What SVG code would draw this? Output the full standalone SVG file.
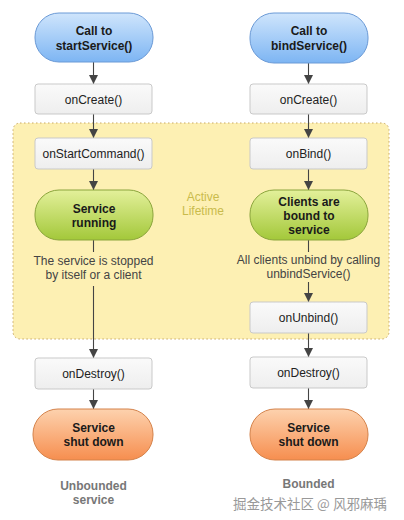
<svg xmlns="http://www.w3.org/2000/svg" width="404" height="520" viewBox="0 0 404 520">
<defs>
<linearGradient id="gBlue" x1="0" y1="0" x2="0" y2="1"><stop offset="0" stop-color="#cfe5fc"/><stop offset="1" stop-color="#7db5f3"/></linearGradient>
<linearGradient id="gGreen" x1="0" y1="0" x2="0" y2="1"><stop offset="0" stop-color="#e3f09a"/><stop offset="1" stop-color="#a3c83a"/></linearGradient>
<linearGradient id="gOrange" x1="0" y1="0" x2="0" y2="1"><stop offset="0" stop-color="#fdd2ae"/><stop offset="1" stop-color="#f68e4f"/></linearGradient>
<linearGradient id="gGray" x1="0" y1="0" x2="0" y2="1"><stop offset="0" stop-color="#fafafa"/><stop offset="1" stop-color="#eeeeee"/></linearGradient>
<marker id="arr" viewBox="0 0 10 10" refX="10" refY="5" markerWidth="9" markerHeight="9" markerUnits="userSpaceOnUse" orient="auto"><path d="M0,0 L10,5 L0,10 z" fill="#444"/></marker>
</defs>
<style>
text{font-family:"Liberation Sans",Arial,sans-serif;font-size:12px;text-anchor:middle}
.box{fill:url(#gGray);stroke:#c9c9c9;stroke-width:1}
.blue{fill:url(#gBlue);stroke:#6b9ad6;stroke-width:1}
.green{fill:url(#gGreen);stroke:#8ba53c;stroke-width:1}
.orange{fill:url(#gOrange);stroke:#d4824a;stroke-width:1}
.t{fill:#222}
.b{font-weight:bold;fill:#1a1a1a}
.note{fill:#444}
.lab{font-weight:bold;fill:#777}
.conn{stroke:#444;stroke-width:1.1;fill:none}
</style>
<rect x="13" y="123" width="376" height="216" rx="7" fill="#fdf0b3" stroke="#c9a864" stroke-width="1" stroke-dasharray="1.5,2.5"/>
<g id="active-lifetime"><text x="203" y="201" fill="#c9bb4c">Active</text><text x="203" y="215" fill="#c9bb4c">Lifetime</text></g>
<g id="connectors">
<line class="conn" x1="93.5" y1="62" x2="93.5" y2="84" marker-end="url(#arr)"/>
<line class="conn" x1="93.5" y1="114" x2="93.5" y2="138" marker-end="url(#arr)"/>
<line class="conn" x1="93.5" y1="169" x2="93.5" y2="190" marker-end="url(#arr)"/>
<line class="conn" x1="93.5" y1="240" x2="93.5" y2="252"/>
<line class="conn" x1="93.5" y1="286" x2="93.5" y2="358" marker-end="url(#arr)"/>
<line class="conn" x1="93.5" y1="389" x2="93.5" y2="409" marker-end="url(#arr)"/>
<line class="conn" x1="308.5" y1="63" x2="308.5" y2="84" marker-end="url(#arr)"/>
<line class="conn" x1="308.5" y1="114" x2="308.5" y2="138" marker-end="url(#arr)"/>
<line class="conn" x1="308.5" y1="169" x2="308.5" y2="190" marker-end="url(#arr)"/>
<line class="conn" x1="308.5" y1="240" x2="308.5" y2="252"/>
<line class="conn" x1="308.5" y1="282" x2="308.5" y2="302" marker-end="url(#arr)"/>
<line class="conn" x1="308.5" y1="333" x2="308.5" y2="357" marker-end="url(#arr)"/>
<line class="conn" x1="308.5" y1="388" x2="308.5" y2="409" marker-end="url(#arr)"/>
</g>
<g id="startService"><rect class="blue" x="35" y="13" width="118" height="49" rx="24"/><text class="b" x="94" y="35">Call to</text><text class="b" x="94" y="50">startService()</text></g>
<g id="bindService"><rect class="blue" x="250" y="13" width="118" height="50" rx="24"/><text class="b" x="309" y="35">Call to</text><text class="b" x="309" y="50">bindService()</text></g>
<g id="onCreate1"><rect class="box" x="35" y="84" width="117" height="30" rx="3"/><text class="t" x="93.5" y="104">onCreate()</text></g>
<g id="onCreate2"><rect class="box" x="250" y="84" width="117" height="30" rx="3"/><text class="t" x="308.5" y="104">onCreate()</text></g>
<g id="onStartCommand"><rect class="box" x="35" y="138" width="117" height="31" rx="3"/><text class="t" x="93.5" y="158">onStartCommand()</text></g>
<g id="onBind"><rect class="box" x="250" y="138" width="117" height="31" rx="3"/><text class="t" x="308.5" y="158">onBind()</text></g>
<g id="serviceRunning"><rect class="green" x="35" y="190" width="118" height="50" rx="24"/><text class="b" x="94" y="213">Service</text><text class="b" x="94" y="227">running</text></g>
<g id="clientsBound"><rect class="green" x="250" y="190" width="118" height="50" rx="24"/><text class="b" x="309" y="206">Clients are</text><text class="b" x="309" y="220">bound to</text><text class="b" x="309" y="234">service</text></g>
<g id="note1"><text class="note" x="93.5" y="265">The service is stopped</text><text class="note" x="93.5" y="279">by itself or a client</text></g>
<g id="note2"><text class="note" x="308.5" y="264">All clients unbind by calling</text><text class="note" x="308.5" y="278">unbindService()</text></g>
<g id="onUnbind"><rect class="box" x="250" y="302" width="117" height="31" rx="3"/><text class="t" x="308.5" y="322">onUnbind()</text></g>
<g id="onDestroy1"><rect class="box" x="35" y="358" width="117" height="31" rx="3"/><text class="t" x="93.5" y="378">onDestroy()</text></g>
<g id="onDestroy2"><rect class="box" x="250" y="357" width="117" height="31" rx="3"/><text class="t" x="308.5" y="377">onDestroy()</text></g>
<g id="shutdown1"><rect class="orange" x="33" y="409" width="120" height="51" rx="25"/><text class="b" x="93.5" y="432">Service</text><text class="b" x="93.5" y="446">shut down</text></g>
<g id="shutdown2"><rect class="orange" x="250" y="409" width="118" height="51" rx="25"/><text class="b" x="308.5" y="432">Service</text><text class="b" x="308.5" y="446">shut down</text></g>
<g id="labels"><text class="lab" x="93.5" y="490">Unbounded</text><text class="lab" x="93.5" y="504">service</text><text class="lab" x="308.5" y="488">Bounded</text></g>
<g id="watermark"><text x="310" y="509" style="font-family:'Noto Sans CJK SC','Liberation Sans',sans-serif;font-size:13.5px;fill:#999;stroke:#fff;stroke-width:2.5;paint-order:stroke">掘金技术社区 @ 风邪麻瑀</text></g>
</svg>
